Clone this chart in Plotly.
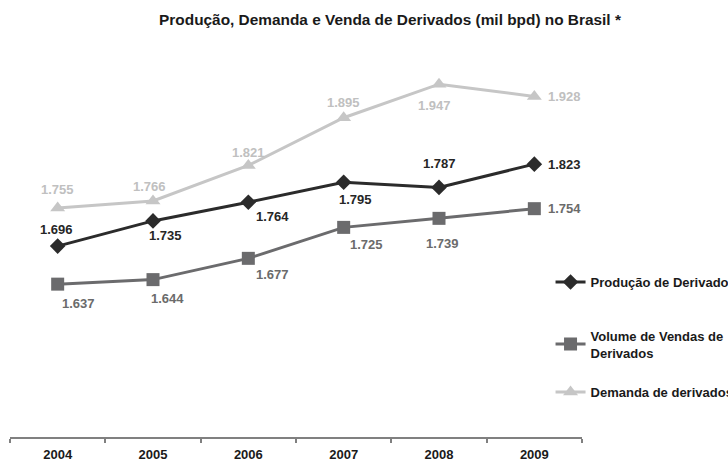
import plotly.graph_objects as go

years = ["2004", "2005", "2006", "2007", "2008", "2009"]
producao = [1696, 1735, 1764, 1795, 1787, 1823]
vendas = [1637, 1644, 1677, 1725, 1739, 1754]
demanda = [1755, 1766, 1821, 1895, 1947, 1928]

names = ["Produção de Derivados", "Volume de Vendas de<br>Derivados", "Demanda de derivados"]
title = "Produção, Demanda e Venda de Derivados (mil bpd) no Brasil *"

FONT = "Liberation Sans, Arial, sans-serif"
c_prod, c_vend, c_dem = "#2b2b2b", "#6b6b6d", "#c6c6c6"
lab_prod, lab_vend, lab_dem = "#262626", "#6b6b6b", "#c0c0c0"

# label offsets in pixels (dx right, dy down)
off_dem = [(0, -19), (-4, -14), (0, -13), (0, -15), (-5, 21), (30, 0)]
off_prod = [(-1, -17), (12, 15), (24, 14), (12, 17), (0, -24), (30, 0)]
off_vend = [(21, 19), (14, 19), (24, 16), (23, 17), (3, 25), (30, 0)]

fig = go.Figure()
series = [
    (producao, names[0], c_prod, lab_prod, "diamond", 12, "legend", off_prod),
    (vendas, names[1], c_vend, lab_vend, "square", 13, "legend2", off_vend),
    (demanda, names[2], c_dem, lab_dem, "triangle-up", 13, "legend3", off_dem),
]
annotations = []
for vals, nm, col, lcol, sym, sz, lg, offs in series:
    fig.add_trace(go.Scatter(
        x=years, y=vals, name=nm, mode="lines+markers",
        line=dict(color=col, width=3),
        marker=dict(symbol=sym, size=sz, color=col),
        legend=lg, showlegend=True,
    ))
    # category axis: annotation x uses the category index
    for i, (yv, (dx, dy)) in enumerate(zip(vals, offs)):
        annotations.append(dict(
            x=i, y=yv, xref="x", yref="y",
            text=f"{yv / 1000:.3f}", showarrow=False,
            xshift=dx, yshift=-dy,
            font=dict(family=FONT, size=13, color=lcol, weight="bold"),
        ))

leg_common = dict(font=dict(family=FONT, size=13, color="#1a1a1a", weight="bold"),
                  bgcolor="rgba(0,0,0,0)", xanchor="left", yanchor="middle",
                  borderwidth=0)

fig.update_layout(
    width=728, height=462,
    paper_bgcolor="white", plot_bgcolor="white",
    margin=dict(l=10, r=146, t=50, b=25, autoexpand=False),
    font=dict(family=FONT, size=13, color="#1a1a1a"),
    showlegend=True,
    annotations=annotations,
    title=dict(text=title, x=390 / 728, xanchor="center", xref="container",
               y=1 - 20 / 462, yanchor="middle", yref="container",
               font=dict(family=FONT, size=15.4, color="#1a1a1a", weight="bold")),
    xaxis=dict(type="category", showline=True, linecolor="#808080", linewidth=1.5,
               ticks="outside", tickson="boundaries", ticklen=4, tickcolor="#808080",
               tickwidth=1.5, showgrid=False, zeroline=False, ticklabelstandoff=5,
               tickfont=dict(family=FONT, size=13, color="#1a1a1a", weight="bold"),
               range=[-0.5, 5.5]),
    yaxis=dict(visible=False, range=[1400, 2000]),
    legend=dict(x=0.945, y=0.4005, **leg_common),
    legend2=dict(x=0.945, y=0.240, **leg_common),
    legend3=dict(x=0.945, y=0.116, **leg_common),
)

fig.write_html("out.html", config={"displayModeBar": False},
               post_script="document.body.style.margin='0';")
